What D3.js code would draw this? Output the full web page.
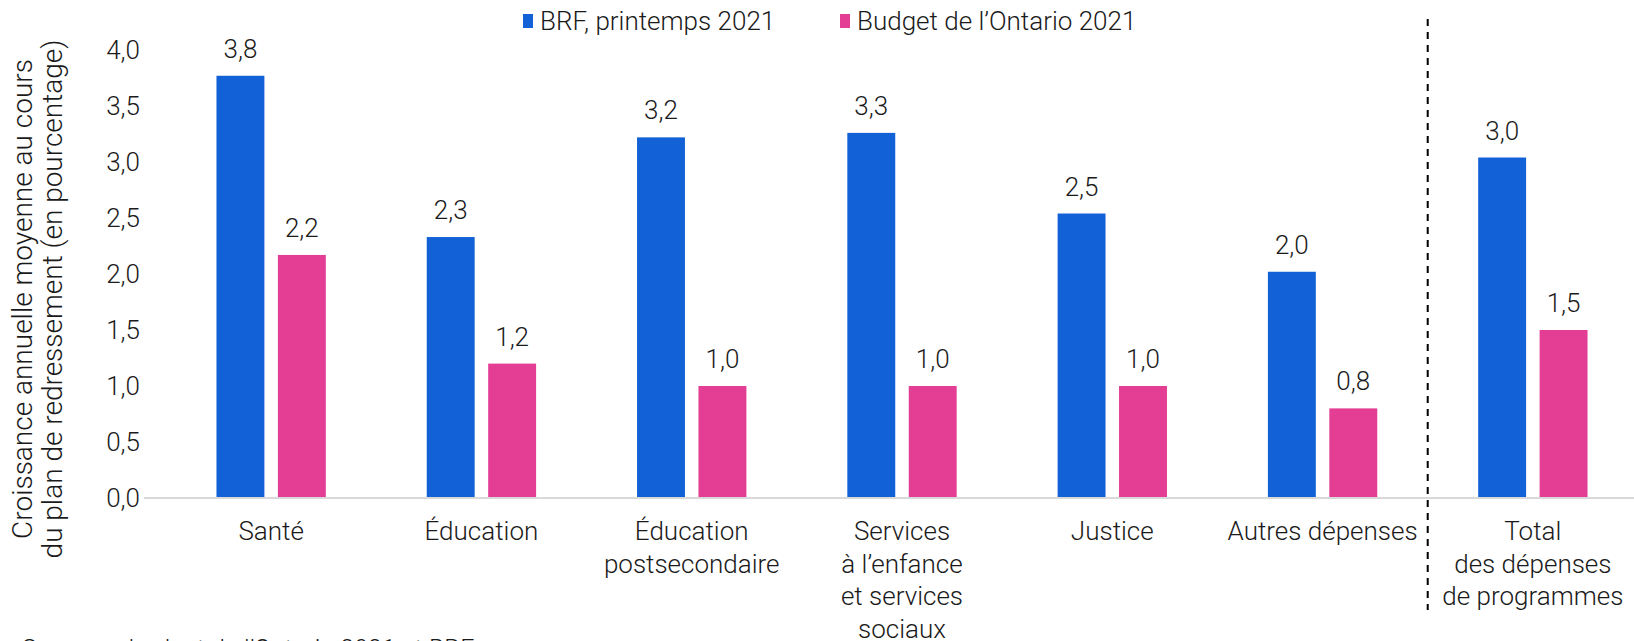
<!DOCTYPE html>
<html>
<head>
<meta charset="utf-8">
<script src="https://cdn.jsdelivr.net/npm/d3@7"></script>
<style>
body { margin: 0; background: #fff; }
svg text { font-family: Roboto, "Liberation Sans", sans-serif; font-weight: 300; fill: #1a1a1a; }
</style>
</head>
<body>
<svg id="chart" width="1634" height="641"></svg>
<script>
// chart data
var categories = ["Santé", "Éducation", "Éducation\npostsecondaire",
    "Services\nà l’enfance\net services\nsociaux", "Justice", "Autres dépenses",
    "Total\ndes dépenses\nde programmes"];
var series = ["BRF, printemps 2021", "Budget de l’Ontario 2021"];
var brf = [3.77, 2.33, 3.22, 3.26, 2.54, 2.02, 3.04];
var budget = [2.17, 1.2, 1.0, 1.0, 1.0, 0.8, 1.5];
var yTicks = [0, 0.5, 1, 1.5, 2, 2.5, 3, 3.5, 4];
var yTitle = ["Croissance annuelle moyenne au cours", "du plan de redressement (en pourcentage)"];
var source = "Sources : budget de l’Ontario 2021 et BRF.";

var colors = ["#1261d6", "#e33d94"];
var fontSize = 26;

var svg = d3.select("#chart");

var x0 = d3.scaleBand().domain(categories).range([166, 1638])
    .paddingInner(0.48).paddingOuter(0.24);
var x1 = d3.scaleBand().domain(series).range([0, x0.bandwidth()]).paddingInner(0.22);
var y = d3.scaleLinear().domain([0, 4]).range([498, 50]);

var fmt = function(d) { return d3.format(".1f")(d).replace(".", ","); };

// y axis (labels only)
var yAxis = svg.append("g")
    .attr("transform", "translate(144,0)")
    .call(d3.axisLeft(y).tickValues(yTicks).tickFormat(fmt).tickSize(0).tickPadding(4));
yAxis.select(".domain").remove();
yAxis.selectAll("text").style("font-size", fontSize + "px").attr("fill", null);

// y title
var yt = svg.append("text")
    .attr("transform", "translate(39,299) rotate(-90)")
    .attr("text-anchor", "middle")
    .style("font-size", "28px");
yTitle.forEach(function(line, i) {
    yt.append("tspan").attr("x", 0).attr("dy", i === 0 ? "-0.25em" : "1.07em").text(line);
});

// bars
var rows = categories.map(function(c, i) { return {cat: c, vals: [brf[i], budget[i]]}; });

var groups = svg.selectAll("g.grp").data(rows).enter().append("g")
    .attr("class", "grp")
    .attr("transform", function(d) { return "translate(" + x0(d.cat) + ",0)"; });

groups.selectAll("rect").data(function(d) {
        return d.vals.map(function(v, j) { return {s: series[j], v: v, j: j}; });
    }).enter().append("rect")
    .attr("x", function(d) { return x1(d.s); })
    .attr("width", x1.bandwidth())
    .attr("y", function(d) { return y(d.v); })
    .attr("height", function(d) { return y(0) - y(d.v); })
    .style("fill", function(d) { return colors[d.j]; });

groups.selectAll("text.val").data(function(d) {
        return d.vals.map(function(v, j) { return {s: series[j], v: v}; });
    }).enter().append("text")
    .attr("class", "val")
    .attr("x", function(d) { return x1(d.s) + x1.bandwidth() / 2; })
    .attr("y", function(d) { return y(d.v) - 18; })
    .attr("text-anchor", "middle")
    .style("font-size", fontSize + "px")
    .text(function(d) { return fmt(d.v); });

// baseline
svg.append("line")
    .attr("x1", 144).attr("x2", 1634)
    .attr("y1", y(0)).attr("y2", y(0))
    .style("stroke", "#d9d9d9").style("stroke-width", 2);

// category labels
categories.forEach(function(c) {
    var t = svg.append("text")
        .attr("text-anchor", "middle")
        .attr("y", 540)
        .style("font-size", fontSize + "px");
    c.split("\n").forEach(function(line, i) {
        t.append("tspan")
            .attr("x", x0(c) + x0.bandwidth() / 2)
            .attr("dy", i === 0 ? 0 : 32.5)
            .text(line);
    });
});

// dashed separator before the total
var last = categories[categories.length - 1];
var prev = categories[categories.length - 2];
var sepX = (x0(prev) + x0.bandwidth() / 2 + x0(last) + x0.bandwidth() / 2) / 2;
svg.append("line")
    .attr("x1", sepX).attr("x2", sepX)
    .attr("y1", 19).attr("y2", 610)
    .style("stroke", "#000").style("stroke-width", 2)
    .style("stroke-dasharray", "7,6");

// legend
var legendX = [523, 840];
var legend = svg.selectAll("g.leg").data(series).enter().append("g")
    .attr("class", "leg")
    .attr("transform", function(d, i) { return "translate(" + legendX[i] + ",0)"; });
legend.append("rect")
    .attr("x", 0).attr("y", 14).attr("width", 10).attr("height", 14)
    .style("fill", function(d, i) { return colors[i]; });
legend.append("text")
    .attr("x", 17).attr("y", 30)
    .style("font-size", fontSize + "px")
    .text(function(d) { return d; });

// source note (cut by the bottom edge)
svg.append("text")
    .attr("x", 22).attr("y", 658)
    .style("font-size", "25px")
    .text(source);
</script>
</body>
</html>
